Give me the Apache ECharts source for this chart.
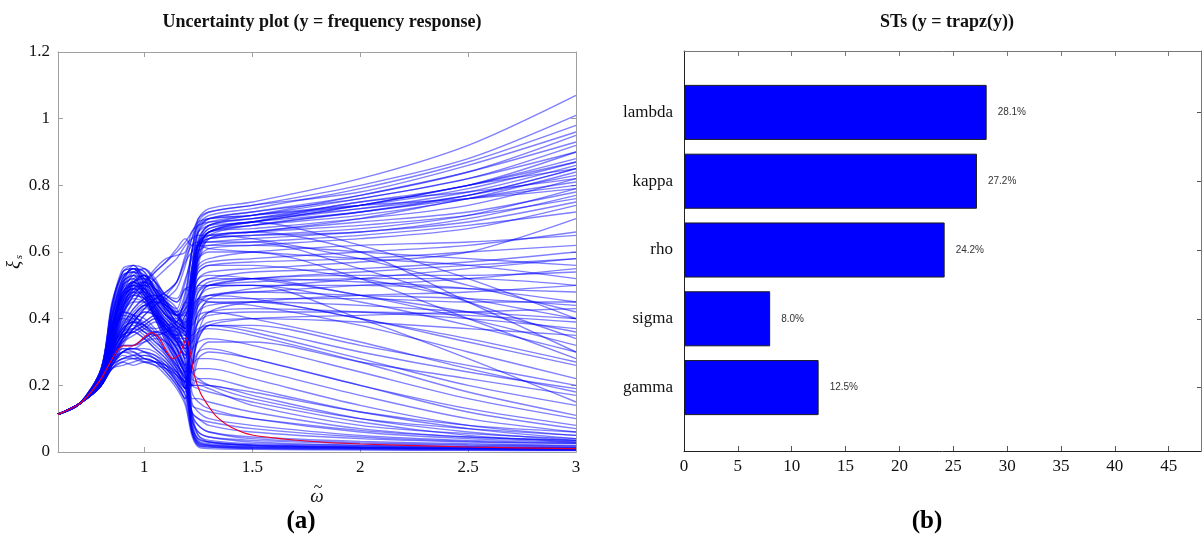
<!DOCTYPE html>
<html>
<head>
<meta charset="utf-8">
<script src="https://cdn.jsdelivr.net/npm/echarts@6/dist/echarts.min.js"></script>
<style>
  html, body { margin: 0; padding: 0; background: #fff; }
  #main { width: 1203px; height: 542px; }
</style>
</head>
<body>
<div id="main"></div>
<script>
// every sampled curve starts on the same low branch
const omegaHead = [0.6, 0.7];
const xiHead = [0.113, 0.145];
// omega positions of the per-curve readings below
const omegaGrid = [0.8, 0.85, 0.9, 0.95, 1.0, 1.05, 1.1, 1.15, 1.19, 1.22, 1.25, 1.3, 1.5, 2.0, 2.5, 3.0];

// curves that jump up after 1.2 and keep climbing
const riseRuns = [
  [0.22,0.37,0.51,0.55,0.53,0.48,0.43,0.41,0.45, 0.6,0.7,0.73,0.75,0.82,0.92,1.07],
  [0.24,0.43,0.54,0.56,0.52,0.46,0.41,0.4,0.47, 0.6,0.69,0.72,0.74,0.8,0.88,1.01],
  [0.21,0.31,0.43,0.5,0.53,0.51,0.47,0.45,0.51, 0.6,0.68,0.71,0.73,0.79,0.87,0.98],
  [0.23,0.39,0.47,0.49,0.46,0.41,0.37,0.35,0.39, 0.55,0.67,0.7,0.72,0.77,0.84,0.95],
  [0.2,0.27,0.34,0.39,0.43,0.46,0.48,0.51,0.59, 0.64,0.68,0.7,0.71,0.76,0.82,0.92],
  [0.22,0.34,0.45,0.5,0.51,0.47,0.43,0.39,0.37, 0.52,0.64,0.68,0.7,0.75,0.8,0.9],
  [0.25,0.45,0.53,0.54,0.49,0.44,0.38,0.34,0.34, 0.5,0.63,0.68,0.7,0.74,0.8,0.88],
  [0.21,0.3,0.39,0.45,0.5,0.54,0.57,0.6,0.63, 0.66,0.69,0.7,0.71,0.74,0.79,0.87],
  [0.22,0.36,0.47,0.51,0.52,0.48,0.42,0.36,0.31, 0.48,0.62,0.67,0.69,0.72,0.77,0.85],
  [0.2,0.29,0.36,0.41,0.44,0.41,0.37,0.33,0.29, 0.45,0.6,0.66,0.68,0.71,0.76,0.84],
  [0.23,0.38,0.46,0.49,0.49,0.45,0.41,0.38,0.36, 0.5,0.62,0.66,0.67,0.7,0.74,0.82],
  [0.21,0.28,0.33,0.37,0.39,0.41,0.39,0.34,0.28, 0.4,0.58,0.64,0.66,0.69,0.72,0.78],
  [0.21,0.31,0.38,0.43,0.46,0.47,0.44,0.41,0.37, 0.55,0.63,0.65,0.66,0.68,0.71,0.76],
  [0.23,0.35,0.42,0.41,0.38,0.35,0.36,0.39,0.43, 0.54,0.62,0.64,0.65,0.67,0.71,0.79],
  [0.22,0.4,0.49,0.53,0.55,0.52,0.46,0.42,0.44, 0.55,0.62,0.64,0.65,0.66,0.7,0.77],
  [0.21,0.32,0.44,0.49,0.5,0.49,0.47,0.46,0.52, 0.58,0.62,0.63,0.64,0.66,0.69,0.75],
  [0.22,0.33,0.42,0.47,0.48,0.46,0.42,0.38,0.36, 0.5,0.6,0.62,0.63,0.65,0.68,0.72],
  [0.23,0.37,0.45,0.5,0.5,0.47,0.41,0.35,0.3, 0.45,0.58,0.61,0.62,0.64,0.67,0.74],
  [0.24,0.41,0.52,0.55,0.54,0.49,0.44,0.42,0.48, 0.6,0.66,0.68,0.69,0.74,0.8,0.85],
  [0.22,0.36,0.45,0.48,0.45,0.4,0.36,0.34,0.38, 0.52,0.62,0.65,0.66,0.7,0.76,0.81],
  [0.21,0.29,0.36,0.41,0.44,0.45,0.44,0.41,0.38, 0.52,0.62,0.66,0.68,0.72,0.77,0.83],
  [0.23,0.38,0.48,0.51,0.49,0.45,0.41,0.39,0.37, 0.55,0.66,0.69,0.71,0.77,0.84,0.93],
  [0.22,0.33,0.42,0.45,0.45,0.41,0.35,0.29,0.24, 0.45,0.62,0.67,0.69,0.74,0.8,0.87],
  [0.25,0.44,0.55,0.56,0.51,0.45,0.39,0.35,0.35, 0.52,0.66,0.7,0.72,0.76,0.82,0.9],
  [0.21,0.31,0.41,0.47,0.51,0.55,0.58,0.59,0.6, 0.66,0.68,0.69,0.7,0.73,0.77,0.85],
  [0.2,0.26,0.32,0.37,0.41,0.44,0.46,0.49,0.56, 0.64,0.7,0.72,0.74,0.78,0.86,0.96],
  [0.24,0.41,0.51,0.53,0.47,0.4,0.33,0.27,0.22, 0.42,0.6,0.66,0.69,0.73,0.78,0.86],
  [0.22,0.31,0.37,0.39,0.38,0.35,0.3,0.25,0.19, 0.4,0.58,0.65,0.68,0.72,0.76,0.8],
  [0.22,0.3,0.35,0.36,0.34,0.31,0.28,0.24,0.21, 0.42,0.6,0.66,0.69,0.75,0.78,0.82],
  [0.2,0.27,0.34,0.39,0.42,0.41,0.37,0.33,0.29, 0.48,0.63,0.68,0.71,0.74,0.76,0.79]
];

// curves that level off on a plateau
const flatRuns = [
  [0.22,0.35,0.49,0.54,0.55,0.51,0.45,0.41,0.41, 0.5,0.56,0.58,0.6,0.62,0.63,0.65],
  [0.24,0.41,0.52,0.55,0.54,0.48,0.43,0.41,0.45, 0.5,0.54,0.56,0.57,0.58,0.6,0.62],
  [0.23,0.37,0.47,0.51,0.48,0.43,0.39,0.37,0.41, 0.45,0.5,0.52,0.54,0.55,0.57,0.6],
  [0.22,0.32,0.43,0.48,0.51,0.49,0.45,0.41,0.39, 0.44,0.49,0.5,0.52,0.53,0.53,0.54],
  [0.22,0.34,0.45,0.51,0.52,0.5,0.44,0.38,0.33, 0.4,0.46,0.49,0.5,0.5,0.49,0.48],
  [0.23,0.36,0.46,0.49,0.47,0.43,0.39,0.36,0.34, 0.42,0.48,0.5,0.51,0.52,0.52,0.5],
  [0.24,0.39,0.49,0.51,0.47,0.4,0.33,0.27,0.22, 0.36,0.44,0.47,0.48,0.47,0.46,0.44],
  [0.22,0.35,0.44,0.48,0.47,0.43,0.37,0.31,0.26, 0.38,0.44,0.46,0.46,0.46,0.45,0.45],
  [0.21,0.3,0.35,0.37,0.39,0.41,0.39,0.34,0.28, 0.35,0.42,0.44,0.45,0.44,0.42,0.4],
  [0.22,0.31,0.37,0.39,0.38,0.35,0.3,0.25,0.19, 0.32,0.39,0.42,0.43,0.42,0.4,0.37],
  [0.22,0.3,0.35,0.36,0.34,0.31,0.28,0.24,0.21, 0.33,0.39,0.41,0.42,0.42,0.41,0.39],
  [0.21,0.27,0.3,0.32,0.34,0.36,0.35,0.31,0.25, 0.3,0.36,0.39,0.4,0.39,0.37,0.35],
  [0.21,0.31,0.38,0.43,0.46,0.47,0.46,0.43,0.37, 0.42,0.46,0.47,0.48,0.5,0.52,0.55],
  [0.21,0.31,0.43,0.51,0.53,0.51,0.47,0.45,0.49, 0.5,0.55,0.57,0.58,0.6,0.62,0.66],
  [0.2,0.29,0.36,0.41,0.44,0.43,0.39,0.35,0.31, 0.38,0.46,0.5,0.52,0.54,0.56,0.58],
  [0.23,0.35,0.4,0.39,0.36,0.35,0.36,0.37,0.41, 0.46,0.52,0.54,0.55,0.57,0.6,0.7],
  [0.25,0.43,0.53,0.54,0.51,0.44,0.38,0.34,0.32, 0.4,0.48,0.51,0.52,0.51,0.49,0.45],
  [0.2,0.26,0.3,0.31,0.31,0.3,0.27,0.23,0.19, 0.28,0.4,0.46,0.49,0.52,0.55,0.58],
  [0.2,0.28,0.34,0.39,0.43,0.46,0.48,0.51,0.57, 0.6,0.62,0.62,0.62,0.6,0.58,0.56],
  [0.2,0.25,0.28,0.28,0.29,0.28,0.25,0.21,0.16, 0.25,0.36,0.42,0.45,0.47,0.48,0.5],
  [0.2,0.26,0.29,0.28,0.27,0.27,0.26,0.24,0.21, 0.26,0.34,0.38,0.4,0.41,0.42,0.43],
  [0.21,0.32,0.41,0.47,0.51,0.54,0.57,0.61,0.64, 0.62,0.62,0.61,0.6,0.58,0.56,0.52]
];

// curves that peak after 1.2 and then fall away
const decayRuns = [
  [0.22,0.37,0.5,0.54,0.53,0.49,0.45,0.41,0.43, 0.46,0.5,0.5,0.5,0.45,0.38,0.3],
  [0.24,0.42,0.52,0.55,0.52,0.46,0.41,0.39,0.45, 0.44,0.46,0.45,0.44,0.38,0.3,0.22],
  [0.23,0.37,0.47,0.49,0.46,0.41,0.37,0.35,0.39, 0.38,0.41,0.42,0.4,0.33,0.25,0.18],
  [0.22,0.33,0.43,0.48,0.49,0.47,0.43,0.39,0.37, 0.35,0.37,0.38,0.36,0.28,0.2,0.14],
  [0.22,0.36,0.47,0.53,0.52,0.48,0.42,0.36,0.31, 0.33,0.36,0.37,0.35,0.27,0.18,0.11],
  [0.23,0.38,0.48,0.51,0.49,0.45,0.41,0.38,0.36, 0.31,0.33,0.34,0.32,0.24,0.16,0.1],
  [0.24,0.4,0.51,0.53,0.49,0.42,0.35,0.29,0.24, 0.26,0.3,0.31,0.28,0.2,0.13,0.08],
  [0.22,0.33,0.42,0.46,0.45,0.41,0.35,0.29,0.24, 0.26,0.28,0.28,0.25,0.17,0.1,0.06],
  [0.21,0.29,0.33,0.35,0.37,0.39,0.37,0.32,0.26, 0.24,0.25,0.25,0.22,0.14,0.08,0.05],
  [0.22,0.32,0.39,0.41,0.4,0.37,0.32,0.27,0.21, 0.2,0.22,0.22,0.19,0.12,0.07,0.04],
  [0.22,0.31,0.36,0.38,0.36,0.33,0.3,0.26,0.23, 0.2,0.2,0.2,0.17,0.1,0.06,0.035],
  [0.21,0.28,0.32,0.32,0.34,0.36,0.35,0.31,0.25, 0.2,0.19,0.18,0.15,0.09,0.05,0.03],
  [0.21,0.3,0.41,0.49,0.51,0.49,0.45,0.43,0.49, 0.48,0.52,0.53,0.52,0.47,0.4,0.32],
  [0.21,0.3,0.36,0.41,0.44,0.45,0.44,0.41,0.35, 0.46,0.54,0.56,0.56,0.52,0.46,0.4],
  [0.2,0.28,0.34,0.39,0.42,0.41,0.37,0.33,0.29, 0.34,0.42,0.45,0.45,0.4,0.33,0.26],
  [0.23,0.36,0.42,0.41,0.38,0.37,0.38,0.39,0.43, 0.45,0.5,0.52,0.52,0.47,0.42,0.36],
  [0.25,0.44,0.54,0.55,0.5,0.43,0.36,0.32,0.32, 0.4,0.45,0.47,0.46,0.4,0.34,0.27],
  [0.2,0.26,0.28,0.29,0.3,0.29,0.27,0.23,0.19, 0.26,0.35,0.38,0.38,0.32,0.26,0.2],
  [0.2,0.25,0.27,0.28,0.28,0.27,0.24,0.2,0.16, 0.22,0.3,0.33,0.33,0.27,0.22,0.17],
  [0.2,0.27,0.31,0.3,0.28,0.27,0.25,0.22,0.19, 0.25,0.34,0.38,0.37,0.3,0.24,0.19],
  [0.2,0.27,0.33,0.37,0.41,0.44,0.47,0.51,0.58, 0.62,0.63,0.63,0.63,0.55,0.45,0.34],
  [0.21,0.31,0.4,0.45,0.49,0.52,0.55,0.58,0.62, 0.64,0.65,0.65,0.64,0.58,0.5,0.42],
  [0.22,0.36,0.5,0.56,0.55,0.51,0.45,0.41,0.42, 0.52,0.58,0.6,0.6,0.52,0.4,0.28],
  [0.22,0.35,0.46,0.51,0.53,0.49,0.44,0.38,0.33, 0.4,0.56,0.64,0.66,0.6,0.45,0.3],
  [0.23,0.38,0.48,0.5,0.48,0.44,0.4,0.37,0.35, 0.45,0.6,0.66,0.69,0.62,0.52,0.4],
  [0.22,0.34,0.44,0.47,0.46,0.42,0.36,0.31,0.26, 0.3,0.45,0.5,0.5,0.4,0.28,0.15],
  [0.2,0.26,0.3,0.31,0.3,0.29,0.26,0.22,0.18, 0.2,0.28,0.3,0.28,0.2,0.12,0.07]
];

// curves that collapse to almost zero right after 1.2
const dropRuns = [
  [0.2,0.26,0.3,0.31,0.3,0.28,0.25,0.21,0.17, 0.06,0.02,0.015,0.01,0.008,0.006,0.005],
  [0.22,0.32,0.38,0.4,0.39,0.36,0.31,0.26,0.2, 0.07,0.025,0.018,0.012,0.01,0.008,0.006],
  [0.2,0.25,0.27,0.26,0.27,0.26,0.23,0.19,0.14, 0.05,0.015,0.01,0.008,0.006,0.005,0.004],
  [0.21,0.28,0.31,0.31,0.33,0.35,0.33,0.29,0.23, 0.08,0.03,0.02,0.015,0.012,0.01,0.008],
  [0.22,0.31,0.36,0.37,0.35,0.32,0.29,0.25,0.22, 0.07,0.025,0.02,0.015,0.012,0.01,0.008],
  [0.2,0.27,0.3,0.29,0.27,0.26,0.25,0.23,0.2, 0.06,0.02,0.015,0.012,0.01,0.008,0.006],
  [0.24,0.41,0.5,0.52,0.48,0.41,0.34,0.28,0.23, 0.09,0.035,0.025,0.02,0.015,0.012,0.01],
  [0.22,0.34,0.43,0.47,0.46,0.42,0.36,0.3,0.25, 0.1,0.05,0.035,0.025,0.02,0.016,0.013],
  [0.21,0.29,0.34,0.36,0.38,0.4,0.38,0.33,0.27, 0.1,0.06,0.045,0.035,0.025,0.02,0.016],
  [0.2,0.28,0.35,0.4,0.43,0.42,0.38,0.34,0.3, 0.12,0.08,0.06,0.045,0.032,0.025,0.02],
  [0.22,0.35,0.46,0.52,0.53,0.49,0.43,0.37,0.32, 0.12,0.1,0.08,0.06,0.04,0.03,0.025],
  [0.23,0.37,0.47,0.5,0.48,0.44,0.4,0.37,0.35, 0.15,0.12,0.1,0.08,0.05,0.035,0.028],
  [0.22,0.33,0.44,0.49,0.5,0.48,0.44,0.4,0.38, 0.18,0.15,0.13,0.1,0.06,0.04,0.03],
  [0.25,0.44,0.54,0.55,0.5,0.43,0.37,0.33,0.33, 0.16,0.16,0.15,0.12,0.07,0.045,0.035],
  [0.22,0.31,0.37,0.39,0.37,0.34,0.29,0.24,0.19, 0.12,0.1,0.09,0.07,0.045,0.032,0.026],
  [0.2,0.26,0.28,0.29,0.29,0.28,0.26,0.21,0.17, 0.08,0.04,0.03,0.022,0.017,0.014,0.012],
  [0.2,0.25,0.26,0.27,0.28,0.27,0.24,0.2,0.15, 0.06,0.03,0.022,0.017,0.013,0.011,0.009],
  [0.22,0.3,0.35,0.37,0.36,0.33,0.3,0.26,0.22, 0.1,0.06,0.045,0.03,0.02,0.016,0.013],
  [0.21,0.28,0.32,0.32,0.33,0.34,0.33,0.29,0.24, 0.11,0.08,0.06,0.04,0.028,0.022,0.018],
  [0.2,0.27,0.3,0.3,0.28,0.27,0.26,0.23,0.2, 0.07,0.04,0.03,0.02,0.015,0.012,0.01],
  [0.23,0.38,0.48,0.5,0.47,0.42,0.38,0.36,0.4, 0.2,0.2,0.19,0.14,0.08,0.055,0.04],
  [0.21,0.3,0.37,0.42,0.45,0.46,0.45,0.42,0.36, 0.24,0.22,0.2,0.16,0.1,0.07,0.05],
  [0.21,0.29,0.34,0.36,0.38,0.4,0.38,0.33,0.27, 0.14,0.13,0.12,0.1,0.065,0.045,0.035],
  [0.24,0.4,0.5,0.52,0.48,0.41,0.34,0.28,0.23, 0.12,0.05,0.03,0.02,0.014,0.011,0.009],
  [0.23,0.36,0.41,0.4,0.37,0.36,0.37,0.38,0.42, 0.22,0.21,0.2,0.18,0.12,0.08,0.06]
];

// nominal (red) response
const nominalOmega = [0.6, 0.7, 0.75, 0.8, 0.83, 0.87, 0.9, 0.93, 0.96, 1.0, 1.035, 1.07, 1.1, 1.13, 1.16, 1.18, 1.196, 1.21, 1.23, 1.26, 1.3, 1.335, 1.4, 1.5, 1.75, 2.0, 2.5, 3.0];
const nominalXi = [0.113, 0.145, 0.177, 0.22, 0.255, 0.3, 0.318, 0.318, 0.322, 0.345, 0.358, 0.34, 0.305, 0.28, 0.29, 0.32, 0.342, 0.31, 0.235, 0.177, 0.135, 0.106, 0.075, 0.051, 0.033, 0.024, 0.015, 0.01];

const omegaTicks = [1, 1.5, 2, 2.5, 3];

// total-order sensitivity indices, listed bottom to top
const params = ['gamma', 'sigma', 'rho', 'kappa', 'lambda'];
const stPercent = [12.5, 8.0, 24.2, 27.2, 28.1];
const stTicks = [0, 5, 10, 15, 20, 25, 30, 35, 40, 45];

const SERIF = '"Liberation Serif", "Times New Roman", serif';
const blue = 'rgba(0,0,255,0.5)';

const series = [];
[dropRuns, decayRuns, flatRuns, riseRuns].forEach(group => {
  group.forEach(run => {
    const pts = omegaHead.map((w, i) => [w, xiHead[i]])
      .concat(run.map((v, i) => [omegaGrid[i], v]));
    series.push({
      type: 'line',
      xAxisIndex: 0,
      yAxisIndex: 0,
      data: pts,
      showSymbol: false,
      symbol: 'none',
      smooth: 0.3,
      silent: true,
      lineStyle: { color: blue, width: 1.4 },
      z: 2
    });
  });
});
series.push({
  type: 'line',
  xAxisIndex: 0,
  yAxisIndex: 0,
  data: nominalXi.map((v, i) => [nominalOmega[i], v]),
  showSymbol: false,
  symbol: 'none',
  smooth: 0.25,
  silent: true,
  lineStyle: { color: '#e8002a', width: 1.2 },
  z: 3
});
series.push({
  type: 'bar',
  xAxisIndex: 4,
  yAxisIndex: 4,
  data: stPercent,
  barWidth: '80%',
  itemStyle: { color: '#0000ff', borderColor: '#1a1a1a', borderWidth: 1 },
  label: {
    show: true,
    position: 'right',
    distance: 11,
    formatter: p => p.value.toFixed(1) + '%',
    fontFamily: '"Liberation Sans", Arial, sans-serif',
    fontSize: 10,
    color: '#333'
  }
});

const edge = c => ({ show: true, onZero: false, lineStyle: { color: c, width: 1 } });
const inTick = (vals, c) => ({ show: true, inside: true, length: 5, customValues: vals, lineStyle: { color: c } });
const tickFont = { fontFamily: SERIF, fontSize: 17, color: '#111' };

const option = {
  animation: false,
  backgroundColor: '#fff',
  title: [
    { text: 'Uncertainty plot (y = frequency response)', left: 317, top: 8, textAlign: 'center',
      textStyle: { fontFamily: SERIF, fontWeight: 'bold', fontSize: 18, color: '#111' } },
    { text: 'STs (y = trapz(y))', left: 942, top: 8, textAlign: 'center',
      textStyle: { fontFamily: SERIF, fontWeight: 'bold', fontSize: 18, color: '#111' } }
  ],
  grid: [
    { left: 58, top: 52, width: 518, height: 400 },
    { left: 684, top: 51, width: 517, height: 400 },
    { left: 684, top: 78, width: 517, height: 344 }
  ],
  xAxis: [
    { gridIndex: 0, type: 'value', min: 0.6, max: 3, position: 'bottom',
      axisLine: edge('#a0a0a0'), axisTick: inTick(omegaTicks, '#a0a0a0'),
      axisLabel: Object.assign({ customValues: omegaTicks, margin: 7 }, tickFont),
      splitLine: { show: false } },
    { gridIndex: 0, type: 'value', min: 0.6, max: 3, position: 'top',
      axisLine: edge('#a0a0a0'), axisTick: inTick([1, 1.5, 2, 2.5], '#a0a0a0'),
      axisLabel: { show: false }, splitLine: { show: false } },
    { gridIndex: 1, type: 'value', min: 0, max: 48, position: 'bottom',
      axisLine: edge('#222'), axisTick: inTick(stTicks.slice(1), '#555'),
      axisLabel: Object.assign({ customValues: stTicks, margin: 7 }, tickFont),
      splitLine: { show: false } },
    { gridIndex: 1, type: 'value', min: 0, max: 48, position: 'top',
      axisLine: edge('#777'), axisTick: inTick(stTicks.slice(1), '#777'),
      axisLabel: { show: false }, splitLine: { show: false } },
    { gridIndex: 2, type: 'value', min: 0, max: 48, show: false }
  ],
  yAxis: [
    { gridIndex: 0, type: 'value', min: 0, max: 1.2, interval: 0.2, position: 'left',
      axisLine: edge('#a0a0a0'),
      axisTick: { show: true, inside: true, length: 5, lineStyle: { color: '#a0a0a0' } },
      axisLabel: Object.assign({ margin: 8 }, tickFont), splitLine: { show: false } },
    { gridIndex: 0, type: 'value', min: 0, max: 1.2, interval: 0.2, position: 'right',
      axisLine: edge('#a0a0a0'),
      axisTick: { show: true, inside: true, length: 5, lineStyle: { color: '#a0a0a0' } },
      axisLabel: { show: false }, splitLine: { show: false } },
    { gridIndex: 1, type: 'value', min: 0, max: 1, position: 'left',
      axisLine: edge('#222'), axisTick: { show: false }, axisLabel: { show: false }, splitLine: { show: false } },
    { gridIndex: 1, type: 'value', min: 0, max: 1, position: 'right',
      axisLine: edge('#777'), axisTick: { show: false }, axisLabel: { show: false }, splitLine: { show: false } },
    { gridIndex: 2, type: 'category', data: params, position: 'left',
      axisLine: { show: false },
      axisTick: { show: true, inside: true, length: 4, alignWithLabel: true, lineStyle: { color: '#333' } },
      axisLabel: Object.assign({ margin: 11 }, tickFont) },
    { gridIndex: 2, type: 'category', data: params, position: 'right',
      axisLine: { show: false },
      axisTick: { show: true, inside: true, length: 4, alignWithLabel: true, lineStyle: { color: '#555' } },
      axisLabel: { show: false } }
  ],
  graphic: [
    // y label: xi with subscript s, reading bottom to top
    { type: 'text', x: 14, y: 265, rotation: Math.PI / 2,
      style: { text: 'ξ', align: 'center', verticalAlign: 'middle', fill: '#111',
        font: 'italic 19px ' + SERIF } },
    { type: 'text', x: 19, y: 257, rotation: Math.PI / 2,
      style: { text: 's', align: 'center', verticalAlign: 'middle', fill: '#111',
        font: 'italic 11px ' + SERIF } },
    // x label: omega with tilde
    { type: 'text', x: 317, y: 497,
      style: { text: 'ω', align: 'center', verticalAlign: 'middle', fill: '#111',
        font: 'italic 19px ' + SERIF } },
    { type: 'text', x: 318, y: 488,
      style: { text: '~', align: 'center', verticalAlign: 'middle', fill: '#111',
        font: '16px ' + SERIF } },
    { type: 'text', x: 301, y: 522,
      style: { text: '(a)', align: 'center', verticalAlign: 'middle', fill: '#000',
        font: 'bold 25px ' + SERIF } },
    { type: 'text', x: 927, y: 522,
      style: { text: '(b)', align: 'center', verticalAlign: 'middle', fill: '#000',
        font: 'bold 25px ' + SERIF } }
  ],
  series: series
};

const chart = echarts.init(document.getElementById('main'), null, { renderer: 'canvas' });
chart.setOption(option);
</script>
</body>
</html>
